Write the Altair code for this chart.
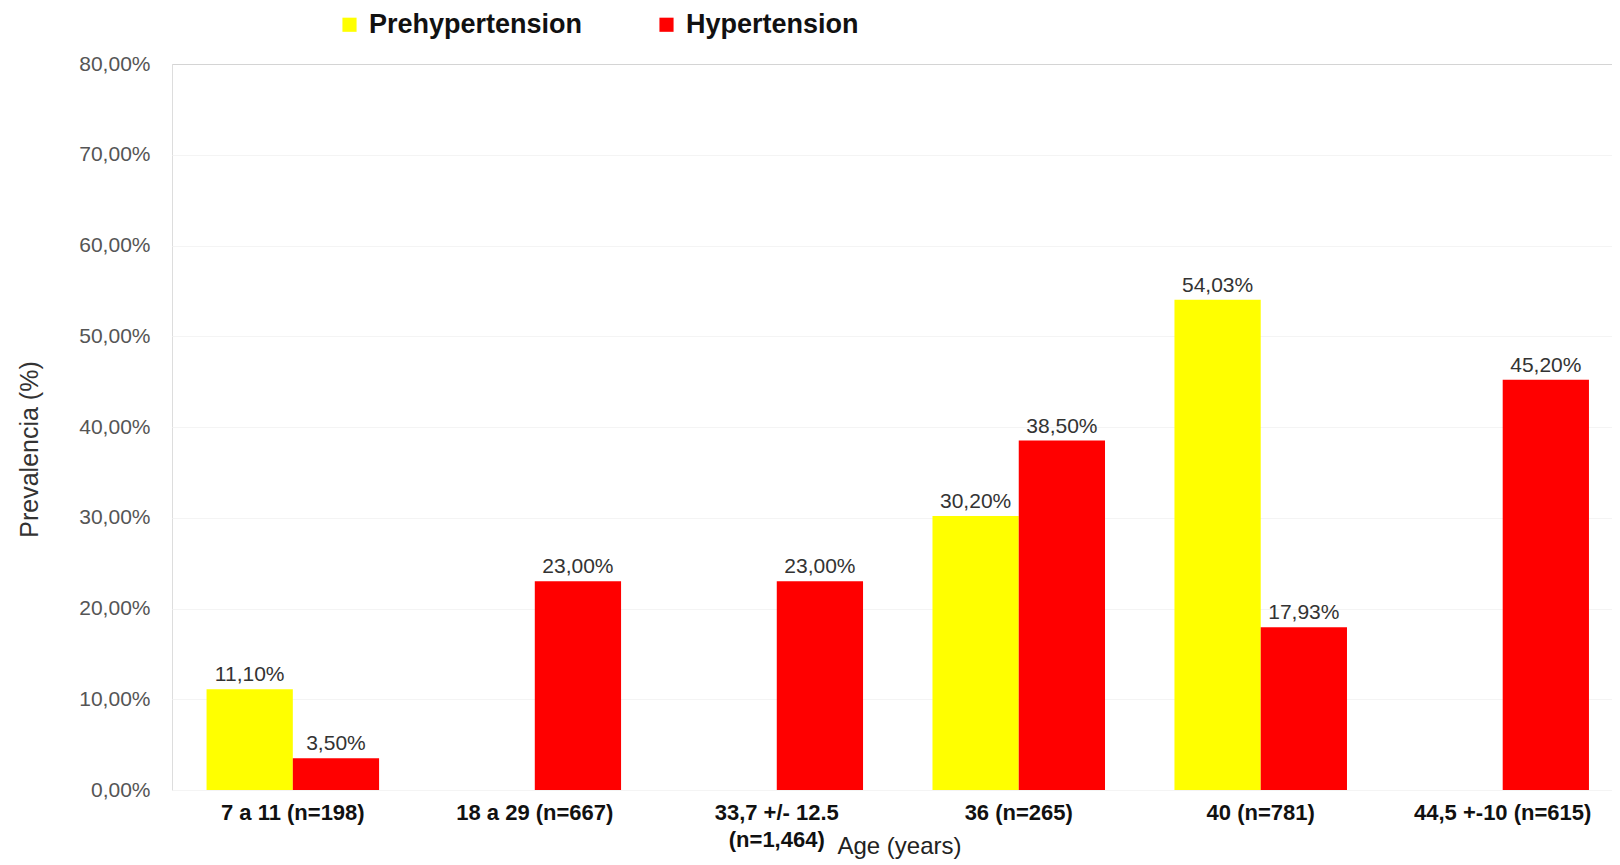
import altair as alt
import pandas as pd

categories = ["7 a 11 (n=198)", "18 a 29 (n=667)", "33,7 +/- 12.5|(n=1,464)",
              "36 (n=265)", "40 (n=781)", "44,5 +-10 (n=615)"]
series = ["Prehypertension", "Hypertension"]
prehypertension = [11.10, None, None, 30.20, 54.03, None]
hypertension = [3.50, 23.00, 23.00, 38.50, 17.93, 45.20]
colors = ["#FFFF00", "#FF0000"]
y_ticks = [0, 10, 20, 30, 40, 50, 60, 70, 80]

rows = []
for c, p, h in zip(categories, prehypertension, hypertension):
    rows.append({"category": c, "series": series[0], "value": p})
    rows.append({"category": c, "series": series[1], "value": h})
df = pd.DataFrame(rows)

FONT = "Liberation Sans, Arial, sans-serif"

x_enc = alt.X(
    "category:N",
    sort=categories,
    scale=alt.Scale(paddingInner=0.287, paddingOuter=0.119, align=0.6),
    axis=alt.Axis(
        title="Age (years)",
        labelExpr="split(datum.label, '|')",
        labelAngle=0,
        labelFont=FONT,
        labelFontWeight="bold",
        labelFontSize=22,
        labelColor="#111111",
        labelPadding=12,
        labelLineHeight=27,
        labelLimit=300,
        domain=False,
        ticks=False,
        grid=False,
        titleFont=FONT,
        titleFontSize=24,
        titleFontWeight="normal",
        titleColor="#222222",
        titleX=727,
        titleY=56,
        titleBaseline="middle",
    ),
)
xoff = alt.XOffset("series:N", sort=series,
                   scale=alt.Scale(domain=series, paddingInner=0, paddingOuter=0))

y_enc = alt.Y(
    "value:Q",
    scale=alt.Scale(domain=[0, 80], nice=False),
    axis=alt.Axis(
        values=y_ticks,
        title="Prevalencia (%)",
        labelExpr="replace(format(datum.value, '.2f'), '.', ',') + '%'",
        labelFont=FONT,
        labelFontSize=21,
        labelColor="#555555",
        labelPadding=22,
        domain=False,
        ticks=False,
        gridColor={"condition": {"test": "datum.value === 80", "value": "#d4d4d4"},
                   "value": "#f4f4f4"},
        titleFont=FONT,
        titleFontSize=25,
        titleFontWeight="normal",
        titleColor="#333333",
        titleX=-143,
        titleY=385,
        titleBaseline="middle",
    ),
)

color_enc = alt.Color(
    "series:N",
    sort=series,
    scale=alt.Scale(domain=series, range=colors),
    legend=alt.Legend(
        title=None,
        orient="none",
        direction="horizontal",
        legendX=164,
        legendY=-53,
        symbolType="square",
        symbolSize=200,
        symbolStrokeWidth=0,
        symbolOpacity=1,
        labelFont=FONT,
        labelFontSize=27,
        labelFontWeight="bold",
        labelColor="#111111",
        labelOffset=6,
        columnPadding=70,
        labelLimit=400,
    ),
)

base = alt.Chart(df).encode(x=x_enc, xOffset=xoff)

bars = base.mark_bar(opacity=1).encode(y=y_enc, color=color_enc)

labels = base.transform_filter("datum.value != null").transform_calculate(
    label="replace(format(datum.value, '.2f'), '.', ',') + '%'"
).mark_text(
    baseline="bottom", dy=-4, font=FONT, fontSize=21, color="#333333"
).encode(y=alt.Y("value:Q"), text="label:N")

chart = alt.layer(bars, labels).properties(
    width=1440,
    height=726,
    padding={"left": 164, "top": 56, "right": 0, "bottom": 70},
    autosize=alt.AutoSizeParams(type="none"),
).configure_view(stroke=None).configure(background="white")

chart.save("out.html", embed_options={"renderer": "svg", "actions": False})
